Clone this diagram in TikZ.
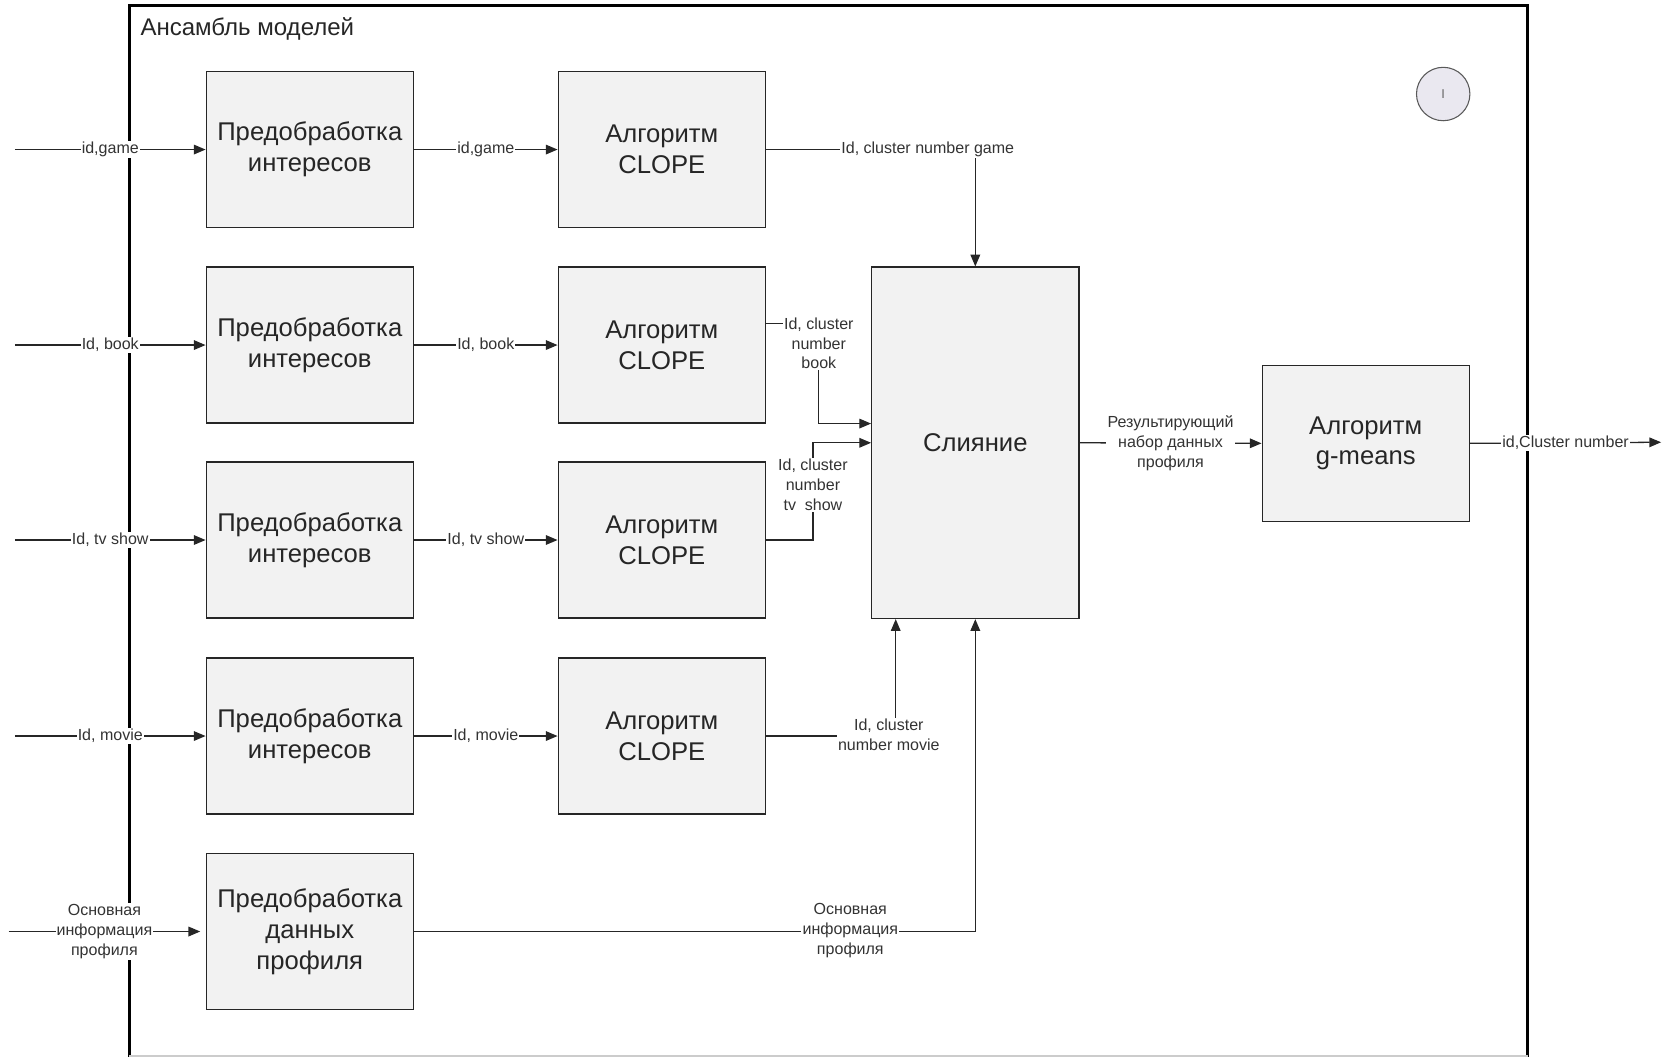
\documentclass[tikz,border=0pt]{standalone}
\usepackage{fontspec}
\setmainfont{Liberation Sans}
\usetikzlibrary{arrows.meta}
\definecolor{boxgray}{HTML}{F2F2F2}
\definecolor{ringfill}{HTML}{EAE8F0}
\begin{document}
\begin{tikzpicture}[x=1pt,y=-1pt,
  box/.style={draw=black!85, line width=1.1pt, fill=boxgray, minimum width=194pt,
    minimum height=146pt, inner sep=0pt, align=center,
    font=\fontsize{24}{29}\selectfont, text=black!85},
  lbl/.style={fill=white, inner sep=1pt, align=center,
    font=\fontsize{15}{18.5}\selectfont, text=black!80},
  flow/.style={line width=1.2pt, draw=black!85},
  tip/.style={-{Triangle[length=11pt,width=9pt]}}
]
\useasboundingbox (0,0) rectangle (1568,989);

% outer frame of the model ensemble
\draw[line width=3pt] (121,1000) -- (121,5) -- (1430,5) -- (1430,1000);
\draw[black!20, line width=1pt] (121,988.5) -- (1430,988.5);
\node[anchor=west, font=\fontsize{22.5}{26}\selectfont, text=black!85] (title) at (128,27) {Ансамбль моделей};

\node[circle, draw=black!65, line width=1pt, fill=ringfill, minimum size=50pt,
  inner sep=0pt, font=\fontsize{12}{12}\selectfont, text=black!60] (ring) at (1351,88) {I};

% processing blocks
\node[box] (p1) at (290,140)   {Предобработка\\интересов};
\node[box] (p2) at (290,323)   {Предобработка\\интересов};
\node[box] (p3) at (290,505.5) {Предобработка\\интересов};
\node[box] (p4) at (290,689)   {Предобработка\\интересов};
\node[box] (pd) at (290,872)   {Предобработка\\данных\\профиля};

\node[box] (c1) at (619.5,140)   {Алгоритм\\CLOPE};
\node[box] (c2) at (619.5,323)   {Алгоритм\\CLOPE};
\node[box] (c3) at (619.5,505.5) {Алгоритм\\CLOPE};
\node[box] (c4) at (619.5,689)   {Алгоритм\\CLOPE};

\node[box, minimum height=329pt] (m) at (913,414.5) {Слияние};
\node[box] (g) at (1278.5,415) {Алгоритм\\g-means};

% free ends of the external flows
\coordinate (in1) at (14,140);
\coordinate (in2) at (14,323);
\coordinate (in3) at (14,505.5);
\coordinate (in4) at (14,689);
\coordinate (in5) at (8,872);
\coordinate (out) at (1555,414);

% inputs
\draw[flow,tip] (in1) -- node[lbl] (li1) {id,game} (p1.west);
\draw[flow,tip] (in2) -- node[lbl] (li2) {Id, book} (p2.west);
\draw[flow,tip] (in3) -- node[lbl] (li3) {Id, tv show} (p3.west);
\draw[flow,tip] (in4) -- node[lbl] (li4) {Id, movie} (p4.west);
\draw[flow,tip] (in5) -- node[lbl] (li5) {Основная\\информация\\профиля} ([xshift=-5pt]pd.west);

% preprocessing to clustering
\draw[flow,tip] (p1.east) -- node[lbl] (lp1) {id,game} (c1.west);
\draw[flow,tip] (p2.east) -- node[lbl] (lp2) {Id, book} (c2.west);
\draw[flow,tip] (p3.east) -- node[lbl] (lp3) {Id, tv show} (c3.west);
\draw[flow,tip] (p4.east) -- node[lbl] (lp4) {Id, movie} (c4.west);

% clustering results into the merge block
\draw[flow,tip] (c1.east) -| (m.north);
\draw[flow,tip] ([yshift=20pt]c2.east) -- ++(49,0) |- ([yshift=18pt]m.west);
\draw[flow,tip] (c3.east) -- ++(44,0) |- (m.west);
\draw[flow,tip] (c4.east) -| ([xshift=-74.5pt]m.south);
\draw[flow,tip] (pd.east) -| (m.south);

\node[lbl] (lc1) at (868.5,140) {Id, cluster number game};
\node[lbl] (lc2) at (766.5,321.5) {Id, cluster\\number\\book};
\node[lbl] (lc3) at (761,454) {Id, cluster\\number\\tv~~show};
\node[lbl] (lc4) at (832,688) {Id, cluster\\number movie};
\node[lbl] (lc5) at (796,871) {Основная\\информация\\профиля};

% merged data to g-means and the final output
\draw[flow,tip] (m.east) -- node[lbl] (lm) {Результирующий\\набор данных\\профиля} (g.west);
\draw[flow,tip] (g.east) -- node[lbl] (lg) {id,Cluster number} (out);
\end{tikzpicture}
\end{document}
